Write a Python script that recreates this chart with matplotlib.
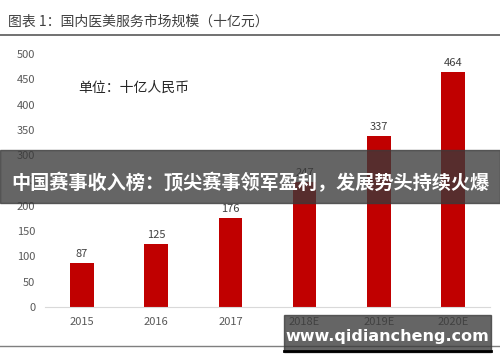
import matplotlib.pyplot as plt

plt.rcParams['font.family'] = ['Noto Sans CJK SC', 'DejaVu Sans']

years = ['2015', '2016', '2017', '2018E', '2019E', '2020E']
market = [87, 125, 176, 247, 337, 464]
yticks = [0, 50, 100, 150, 200, 250, 300, 350, 400, 450, 500]

fig = plt.figure(figsize=(5, 3.62), dpi=100)
ax = fig.add_axes([0.09, 0.152, 0.89, 0.699])

x = range(len(years))
ax.bar(x, market, width=0.32, color='#c00000', zorder=2)
for i, v in zip(x, market):
    ax.text(i, v + 8, str(v), ha='center', va='bottom', fontsize=8, color='#404040')

ax.set_xlim(-0.5, len(years) - 0.5)
ax.set_ylim(0, 500)
ax.set_yticks(yticks)
ax.set_xticks(list(x))
ax.set_xticklabels(years)
ax.tick_params(length=0, labelsize=8, colors='#595959', pad=7)
for s in ['top', 'right', 'left']:
    ax.spines[s].set_visible(False)
ax.spines['bottom'].set_color('#d9d9d9')

ax.text(0.075, 0.85, '单位：十亿人民币', transform=ax.transAxes, fontsize=10, color='#262626')

# title and rules
fig.text(0.016, 0.94, '图表 1：国内医美服务市场规模（十亿元）', fontsize=10, color='#404040', va='center')
fig.add_artist(plt.Line2D([0, 1], [0.903, 0.903], color='#595959', lw=1.2))
fig.add_artist(plt.Line2D([0, 1], [0.044, 0.044], color='#7f7f7f', lw=1))

# overlay banner
fig.patches.append(plt.Rectangle((0, 0.44), 1, 0.146, transform=fig.transFigure,
                                 color='#3a3a3a', alpha=0.78, zorder=5))
fig.text(0.5, 0.495, '中国赛事收入榜：顶尖赛事领军盈利，发展势头持续火爆', ha='center', va='center',
         fontsize=13.8, fontweight='bold', color='white', zorder=6)

# watermark
fig.patches.append(plt.Rectangle((0.568, 0.028), 0.414, 0.102, transform=fig.transFigure,
                                 color='#3a3a3a', alpha=0.78, zorder=5))
fig.add_artist(plt.Line2D([0.568, 0.982], [0.03, 0.03], color='black', lw=2, zorder=6))
fig.text(0.775, 0.07, 'www.qidiancheng.com', ha='center', va='center',
         fontsize=11.5, fontweight='bold', color='white', family='DejaVu Sans', zorder=6)

fig.savefig('out.png', dpi=100)
